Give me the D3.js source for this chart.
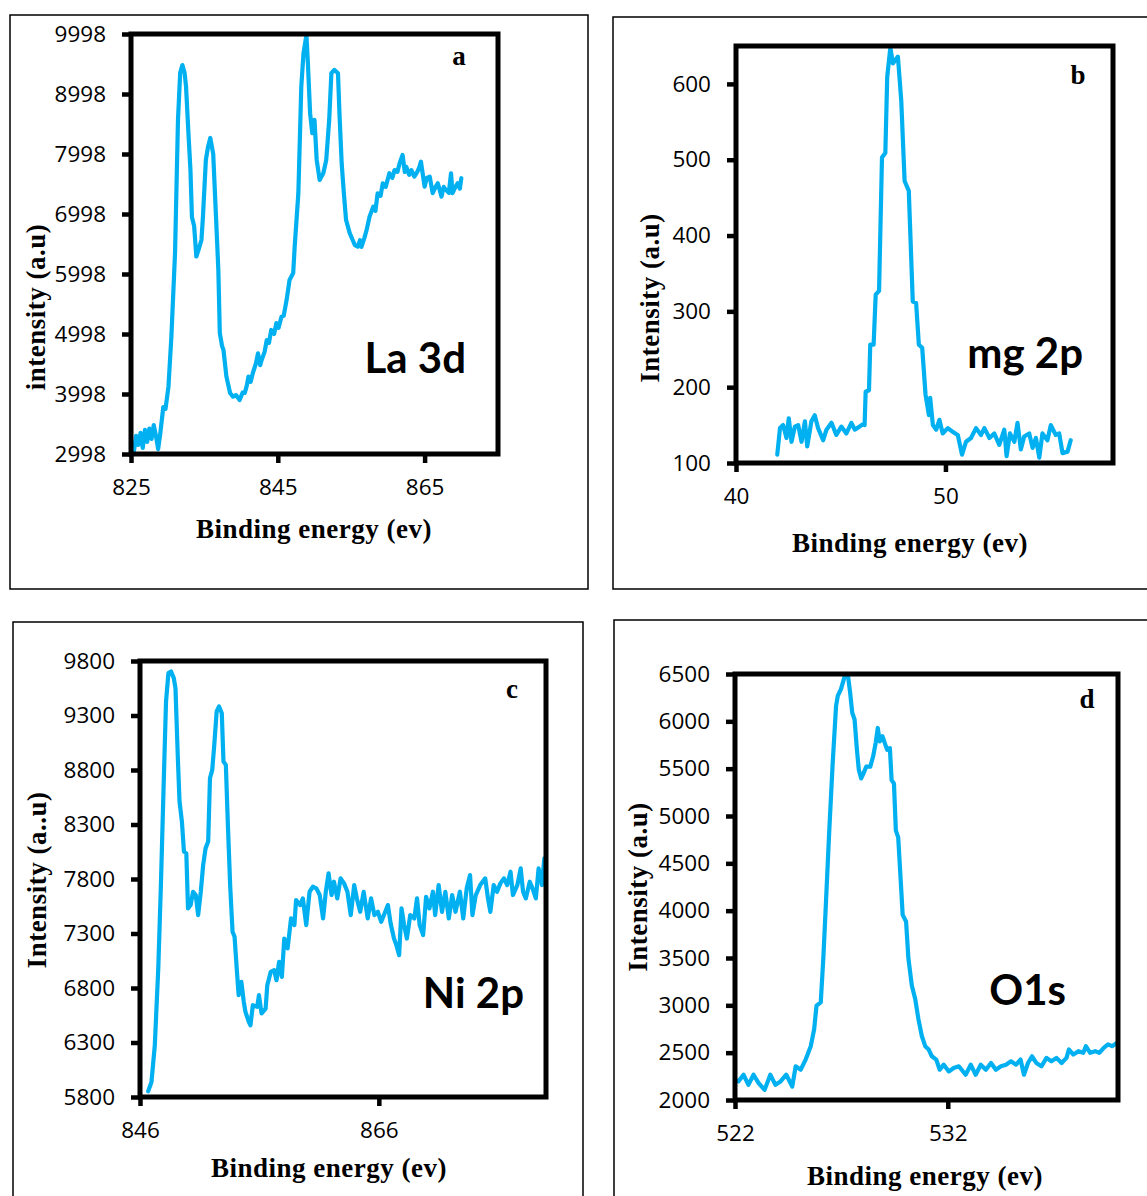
<!DOCTYPE html>
<html lang="en">
<head>
<meta charset="utf-8">
<title>XPS spectra</title>
<script src="https://cdn.jsdelivr.net/npm/d3@7"></script>
<style>
  body {margin: 0; background: #fff;}
  svg {display: block;}
  .tick text {font-family: "Open Sans", sans-serif; font-size: 22.5px; fill: #000;}
  .tick line {stroke: #000; stroke-width: 4.5px;}
  .ax-title {font-family: "Liberation Serif", serif; font-weight: bold; font-size: 27px; letter-spacing: 0.5px; fill: #000;}
  .letter {font-family: "Liberation Serif", serif; font-weight: bold; font-size: 27px; fill: #000;}
  .big {font-family: Lato, sans-serif; font-weight: bold; font-size: 42px; fill: #000;}
</style>
</head>
<body>
<svg id="chart" width="1147" height="1196"></svg>
<script>
// La 3d
var laEnergy = [825.1,825.4,825.7,826.0,826.3,826.6,826.9,827.2,827.5,827.8,828.1,828.4,828.7,829.0,829.4,829.7,830.1,830.5,831.0,831.4,831.7,832.0,832.3,832.5,832.8,833.1,833.3,833.6,833.9,834.2,834.6,834.8,835.2,835.5,835.8,836.2,836.6,836.9,837.1,837.4,837.6,838.0,838.5,838.9,839.3,839.8,840.2,840.5,840.8,841.0,841.3,841.6,842.0,842.3,842.6,842.8,843.2,843.5,843.8,844.1,844.5,844.8,845.1,845.5,845.8,846.2,846.6,847.1,847.3,847.8,848.2,848.5,848.9,849.1,849.4,849.7,850.0,850.3,850.7,851.2,851.6,852.0,852.3,852.7,853.2,853.4,853.7,854.0,854.3,854.8,855.2,855.5,855.9,856.2,856.4,856.8,857.1,857.5,858.0,858.3,858.6,859.0,859.3,859.7,860.2,860.6,860.9,861.3,861.6,862.0,862.3,862.5,862.9,863.2,863.6,864.0,864.3,864.5,865.0,865.3,865.7,866.1,866.5,866.8,867.3,867.6,867.9,868.3,868.6,868.8,869.2,869.5,869.8,870.0];
var laIntensity = [3180,3050,3300,3150,3350,3100,3400,3200,3420,3250,3480,3300,3080,3350,3780,3750,4115,4950,6350,8565,9350,9480,9350,9120,8400,7730,6950,6800,6290,6400,6565,6950,7900,8120,8265,8000,6900,6065,5015,4800,4731,4287,4015,3953,3980,3898,4020,4015,4150,4287,4200,4348,4500,4676,4480,4565,4700,4898,4850,5065,5000,5180,5100,5287,5300,5565,5898,6015,6454,7344,9120,9676,9980,9510,8678,8344,8566,7899,7565,7677,7899,8565,9344,9400,9344,8680,7844,7344,6898,6680,6565,6480,6454,6560,6450,6600,6732,6954,7120,7050,7344,7300,7510,7450,7677,7600,7730,7700,7844,7982,7700,7785,7650,7730,7620,7700,7785,7870,7454,7600,7620,7344,7450,7510,7288,7450,7400,7350,7677,7344,7450,7510,7420,7594];
var laXTicks = [825, 845, 865];
var laYTicks = [2998, 3998, 4998, 5998, 6998, 7998, 8998, 9998];

// Mg 2p
var mgEnergy = [41.97,42.10,42.25,42.41,42.52,42.65,42.81,42.97,43.13,43.29,43.40,43.60,43.76,43.92,44.16,44.32,44.56,44.79,45.03,45.27,45.51,45.67,45.90,46.06,46.14,46.19,46.35,46.41,46.57,46.67,46.83,46.97,47.13,47.22,47.37,47.49,47.73,47.89,48.05,48.25,48.44,48.60,48.73,48.89,49.05,49.21,49.27,49.40,49.56,49.71,49.87,50.11,50.35,50.59,50.79,50.98,51.22,51.46,51.70,51.86,52.10,52.33,52.57,52.81,52.92,53.08,53.29,53.44,53.60,53.76,54.00,54.16,54.32,54.48,54.63,54.87,55.03,55.27,55.43,55.59,55.83,55.98];
var mgIntensity = [111,146,150,133,159,128,148,150,128,155,122,155,163,146,130,144,153,137,148,139,153,144,148,151,150,194,196,256,256,322,327,503,509,609,648,627,636,578,472,459,313,311,256,252,190,163,186,150,144,157,139,146,141,137,111,128,133,146,137,146,133,139,124,144,109,139,128,153,118,135,139,120,133,107,139,130,150,137,139,113,115,130];
var mgXTicks = [40, 50];
var mgYTicks = [100, 200, 300, 400, 500, 600];

// Ni 2p
var niEnergy = [846.68,846.96,847.24,847.53,847.75,847.98,848.18,848.38,848.60,848.83,848.97,849.17,849.31,849.51,849.68,849.88,850.02,850.24,850.44,850.67,850.87,851.09,851.29,851.49,851.71,851.86,852.05,852.22,852.42,852.62,852.85,852.99,853.19,853.36,853.55,853.75,853.92,854.12,854.26,854.49,854.69,854.83,855.11,855.25,855.45,855.82,855.96,856.18,856.52,856.66,856.95,857.23,857.43,857.65,857.88,858.08,858.36,858.65,858.93,859.07,859.41,859.64,859.92,860.20,860.48,860.77,861.05,861.33,861.56,861.79,862.04,862.24,862.52,862.80,863.09,863.37,863.65,863.94,864.16,864.44,864.73,865.07,865.35,865.63,865.92,866.20,866.48,866.76,866.99,867.27,867.47,867.70,867.90,868.12,868.35,868.63,868.97,869.20,869.42,869.71,869.96,870.24,870.53,870.72,871.01,871.29,871.57,871.86,872.14,872.42,872.79,873.07,873.36,873.64,873.84,874.12,874.49,874.91,875.14,875.34,875.62,875.90,876.18,876.47,876.75,877.03,877.23,877.60,877.88,878.08,878.31,878.64,878.87,879.15,879.38,879.66,879.86,879.95];
var niIntensity = [5852,5938,6275,6979,7744,8663,9428,9689,9704,9643,9551,8908,8510,8326,8051,8035,7530,7561,7683,7653,7469,7683,7928,8081,8143,8724,8801,9030,9337,9383,9321,8877,8847,8296,7744,7316,7270,6948,6734,6856,6673,6581,6489,6458,6642,6627,6734,6566,6611,6826,6948,6963,6872,7040,6902,7254,7163,7438,7377,7607,7561,7622,7377,7683,7729,7714,7653,7438,7683,7852,7653,7775,7622,7806,7760,7683,7469,7744,7622,7499,7683,7438,7622,7469,7499,7408,7484,7561,7392,7254,7193,7101,7530,7377,7254,7469,7438,7622,7377,7285,7637,7530,7683,7469,7744,7499,7683,7438,7653,7499,7683,7438,7714,7836,7469,7653,7744,7806,7622,7499,7744,7683,7760,7806,7744,7867,7653,7744,7898,7683,7622,7775,7714,7622,7898,7744,7990,7836];
var niXTicks = [846, 866];
var niYTicks = [5800, 6300, 6800, 7300, 7800, 8300, 8800, 9300, 9800];

// O 1s
var oEnergy = [522.0,522.16,522.40,522.63,522.87,523.11,523.39,523.66,523.90,524.14,524.41,524.69,524.85,525.09,525.32,525.56,525.72,525.83,526.03,526.15,526.27,526.43,526.59,526.75,526.83,526.98,527.14,527.30,527.41,527.51,527.62,527.73,527.82,527.93,528.04,528.17,528.36,528.49,528.61,528.71,528.80,528.93,529.04,529.15,529.28,529.36,529.47,529.56,529.67,529.78,529.88,530.04,530.15,530.31,530.47,530.62,530.78,530.94,531.10,531.25,531.46,531.62,531.81,532.05,532.28,532.52,532.84,533.08,533.31,533.55,533.79,534.03,534.26,534.50,534.74,534.97,535.21,535.42,535.58,535.77,535.96,536.16,536.40,536.64,536.87,537.11,537.35,537.58,537.69,537.90,538.14,538.37,538.49,538.69,538.93,539.12,539.33,539.53,539.72,539.96];
var oIntensity = [2213,2196,2267,2160,2267,2178,2107,2267,2160,2196,2267,2142,2356,2320,2427,2569,2747,2996,3032,3494,4063,4846,5557,6162,6268,6340,6464,6500,6304,6091,6019,5699,5486,5397,5450,5522,5522,5628,5770,5930,5788,5842,5770,5699,5717,5379,5344,4846,4774,4348,3956,3885,3494,3209,3067,2854,2676,2569,2534,2462,2427,2320,2373,2302,2338,2356,2267,2373,2267,2373,2320,2391,2320,2356,2373,2409,2373,2427,2267,2391,2462,2391,2356,2445,2409,2445,2391,2445,2534,2480,2516,2498,2569,2498,2516,2498,2551,2587,2569,2605];
var oXTicks = [522, 532];
var oYTicks = [2000, 2500, 3000, 3500, 4000, 4500, 5000, 5500, 6000, 6500];

var svg = d3.select('#chart');
svg.append('rect').attr('width', 1147).attr('height', 1196).attr('fill', '#fff');

var panels = [
    {energy: laEnergy, intensity: laIntensity, xTicks: laXTicks, yTicks: laYTicks,
     xDomain: [825, 875], yDomain: [2998, 9998],
     frame: [10, 15, 588, 589], plot: {l: 131, t: 34, r: 498, b: 454},
     yTitle: 'intensity (a.u)', yTitlePos: [45, 307], xTitlePos: [314, 538],
     letter: 'a', letterPos: [459, 65], name: 'La 3d', namePos: [466, 373]},
    {energy: mgEnergy, intensity: mgIntensity, xTicks: mgXTicks, yTicks: mgYTicks,
     xDomain: [40, 58], yDomain: [100, 650],
     frame: [613, 17, 1160, 589], plot: {l: 736, t: 46, r: 1113, b: 463},
     yTitle: 'Intensity (a.u)', yTitlePos: [659, 298], xTitlePos: [910, 552],
     letter: 'b', letterPos: [1078, 84], name: 'mg 2p', namePos: [1083, 368]},
    {energy: niEnergy, intensity: niIntensity, xTicks: niXTicks, yTicks: niYTicks,
     xDomain: [846, 880], yDomain: [5800, 9800],
     frame: [13, 622, 583, 1210], plot: {l: 140, t: 661, r: 546, b: 1097},
     yTitle: 'Intensity (a..u)', yTitlePos: [46, 880], xTitlePos: [329, 1177],
     letter: 'c', letterPos: [512, 698], name: 'Ni 2p', namePos: [524, 1008]},
    {energy: oEnergy, intensity: oIntensity, xTicks: oXTicks, yTicks: oYTicks,
     xDomain: [522, 540], yDomain: [2000, 6500],
     frame: [614, 620, 1160, 1210], plot: {l: 735, t: 674, r: 1118, b: 1100},
     yTitle: 'Intensity (a.u)', yTitlePos: [647, 887], xTitlePos: [925, 1185],
     letter: 'd', letterPos: [1087, 708], name: 'O1s', namePos: [1066, 1005]}
];

panels.forEach(function(p) {
    var g = svg.append('g');
    var f = p.frame;
    g.append('rect')
        .attr('x', f[0]).attr('y', f[1])
        .attr('width', f[2] - f[0]).attr('height', f[3] - f[1])
        .attr('fill', 'none').attr('stroke', '#000').attr('stroke-width', 1.5);

    var x = d3.scaleLinear().domain(p.xDomain).range([p.plot.l, p.plot.r]);
    var y = d3.scaleLinear().domain(p.yDomain).range([p.plot.b, p.plot.t]);

    var line = d3.line()
        .x(function(d) { return x(d[0]); })
        .y(function(d) { return y(d[1]); });

    g.append('path')
        .datum(d3.zip(p.energy, p.intensity))
        .attr('d', line)
        .attr('fill', 'none')
        .attr('stroke', '#00b0f0')
        .attr('stroke-width', 4.2)
        .attr('stroke-linejoin', 'round')
        .attr('stroke-linecap', 'round');

    g.append('g')
        .attr('transform', 'translate(' + p.plot.l + ',0)')
        .call(d3.axisLeft(y).tickValues(p.yTicks).tickSize(9).tickPadding(16).tickFormat(d3.format('d')))
        .call(function(a) { a.select('.domain').remove(); });

    g.append('g')
        .attr('transform', 'translate(0,' + p.plot.b + ')')
        .call(d3.axisBottom(x).tickValues(p.xTicks).tickSize(9).tickPadding(16).tickFormat(d3.format('d')))
        .call(function(a) { a.select('.domain').remove(); });

    g.append('rect')
        .attr('x', p.plot.l).attr('y', p.plot.t)
        .attr('width', p.plot.r - p.plot.l).attr('height', p.plot.b - p.plot.t)
        .attr('fill', 'none').attr('stroke', '#000').attr('stroke-width', 5);

    g.append('text')
        .attr('class', 'ax-title')
        .attr('text-anchor', 'middle')
        .attr('transform', 'translate(' + p.yTitlePos[0] + ',' + p.yTitlePos[1] + ') rotate(-90)')
        .text(p.yTitle);

    g.append('text')
        .attr('class', 'ax-title')
        .attr('text-anchor', 'middle')
        .attr('x', p.xTitlePos[0]).attr('y', p.xTitlePos[1])
        .text('Binding energy (ev)');

    g.append('text')
        .attr('class', 'letter')
        .attr('text-anchor', 'middle')
        .attr('x', p.letterPos[0]).attr('y', p.letterPos[1])
        .text(p.letter);

    g.append('text')
        .attr('class', 'big')
        .attr('text-anchor', 'end')
        .attr('x', p.namePos[0]).attr('y', p.namePos[1])
        .text(p.name);
});
</script>
</body>
</html>
